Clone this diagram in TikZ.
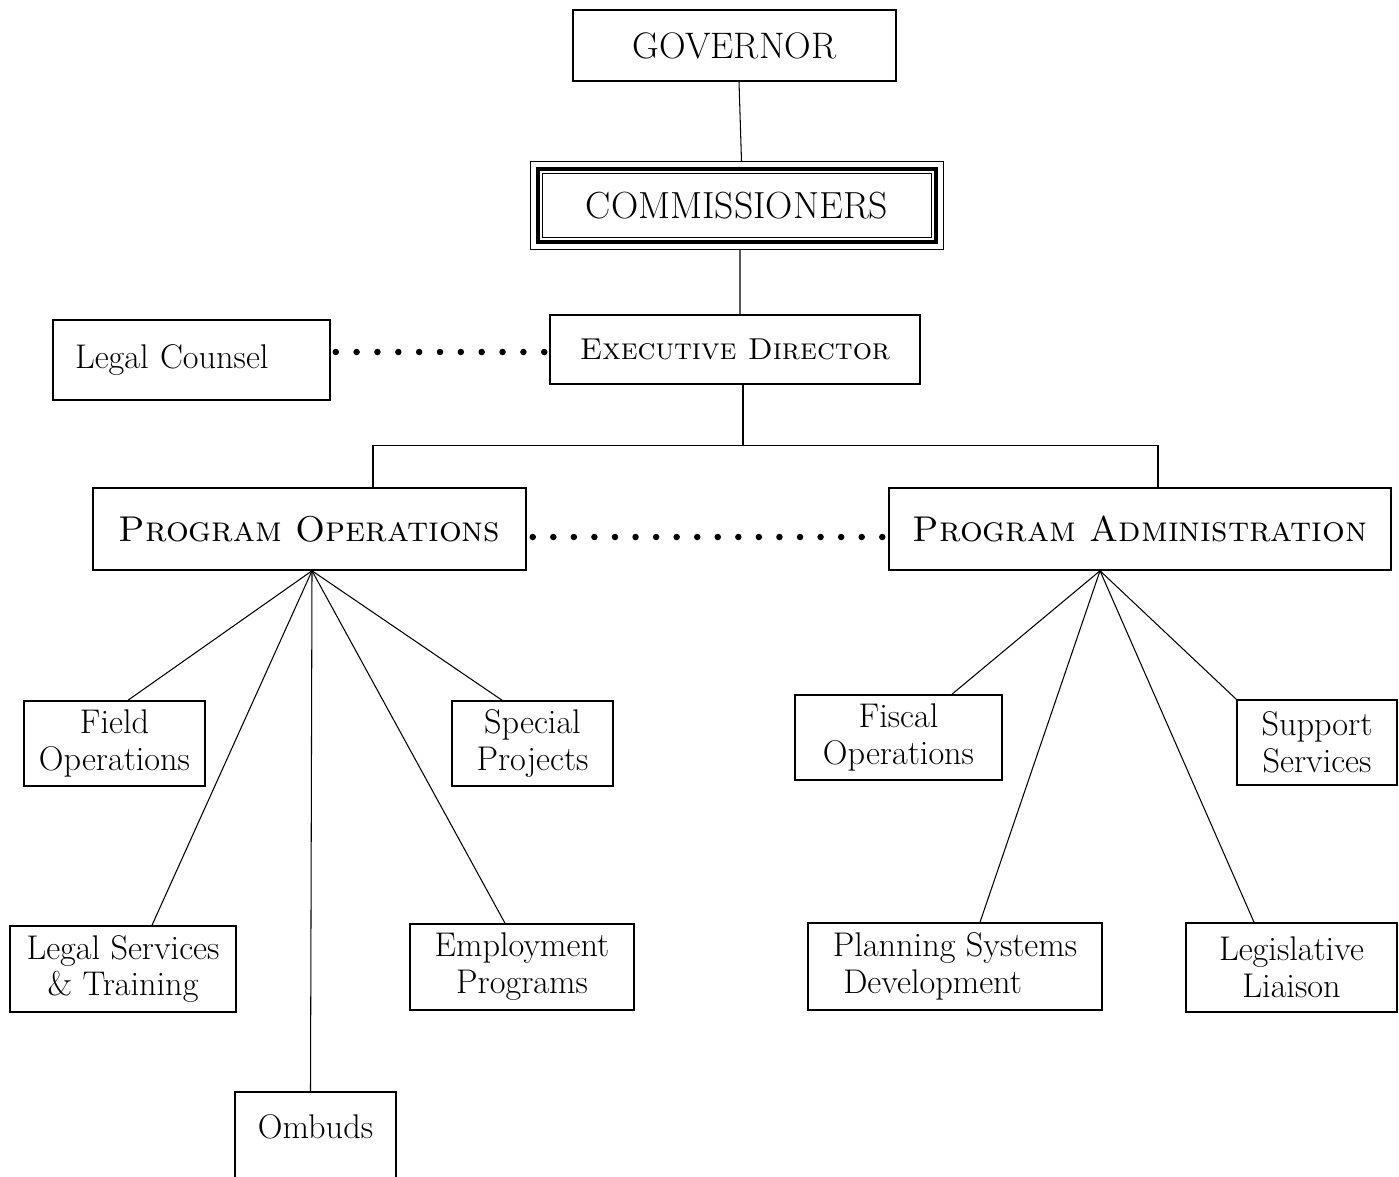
\documentclass[tikz,border=0pt]{standalone}
\usepackage{tikz}
\usetikzlibrary{positioning,calc}

\begin{document}
\begin{tikzpicture}[
        x=0.02cm, y=-0.02cm,
        box/.style={rectangle, draw=black, line width=0.9pt, align=center,
                    inner sep=2pt, font=\fontsize{19.5}{21}\selectfont},
        head/.style={box, font=\fontsize{20.4}{22}\selectfont},
        link/.style={draw=black, line width=0.6pt},
        dot/.style={fill=black},
    ]
    \useasboundingbox (0,0) rectangle (1399,1176);
    \clip (0,0) rectangle (1399,1176);

    % Top of the chart
    \node[head, minimum width=6.46cm, minimum height=1.42cm,
          font=\fontsize{21}{22}\selectfont] (gov) at (734.5,45.5) {GOVERNOR};
    \node[head, line width=1.8pt, minimum width=7.96cm, minimum height=1.46cm,
          font=\fontsize{21.5}{22}\selectfont] (comm) at (737,205.5) {COMMISSIONERS};
    \draw[line width=0.8pt] ([shift={(-0.12cm,0.12cm)}]comm.north west)
        rectangle ([shift={(0.12cm,-0.12cm)}]comm.south east);
    \draw[line width=0.6pt] ([shift={(0.12cm,-0.12cm)}]comm.north west)
        rectangle ([shift={(-0.12cm,0.12cm)}]comm.south east);
    \node[head, minimum width=7.4cm, minimum height=1.38cm,
          font=\fontsize{17.2}{21}\selectfont] (exec) at (735,349.5) {\textsc{Executive Director}};
    \node[box, minimum width=5.54cm, minimum height=1.6cm, align=left,
          text width=4.66cm] (lc) at (191.5,360) {Legal Counsel};

    % Program divisions
    \node[head, minimum width=8.66cm, minimum height=1.64cm] (po) at (309.5,529) {\textsc{Program Operations}};
    \node[head, minimum width=10.04cm, minimum height=1.64cm] (pa) at (1140,529) {\textsc{Program Administration}};

    % Units under Program Operations
    \node[box, minimum width=3.62cm, minimum height=1.7cm] (field) at (114.5,743.5) {Field\\Operations};
    \node[box, minimum width=3.22cm, minimum height=1.7cm] (spec) at (532.5,743.5) {Special\\Projects};
    \node[box, minimum width=4.52cm, minimum height=1.72cm] (lst) at (123,969) {Legal Services\\\& Training};
    \node[box, minimum width=4.48cm, minimum height=1.72cm] (emp) at (522,967) {Employment\\Programs};
    \node[box, anchor=north, minimum width=3.22cm, text depth=1.7cm, inner ysep=0.45cm] (omb) at (315.5,1091) {Ombuds};

    % Units under Program Administration
    \node[box, minimum width=4.14cm, minimum height=1.7cm] (fisc) at (898.5,737.5) {Fiscal\\Operations};
    \node[box, minimum width=3.2cm, minimum height=1.7cm] (supp) at (1317,742.5) {Support\\Services};
    \node[box, minimum width=5.88cm, minimum height=1.74cm, align=left] (plan) at (955,966.5) {Planning Systems\\\ Development};
    \node[box, minimum width=4.22cm, minimum height=1.78cm] (legis) at (1291.5,967.5) {Legislative\\Liaison};

    % Solid lines
    \draw[link] ([xshift=0.09cm]gov.south) -- ([xshift=0.09cm,yshift=0.12cm]comm.north);
    \draw[link] ([xshift=0.06cm,yshift=-0.12cm]comm.south) -- ([xshift=0.1cm]exec.north);
    \draw[link] ([xshift=0.16cm]exec.south) -- ++(0,61) coordinate (bus);
    \draw[link] ([xshift=1.27cm]po.north) |- (bus) -| ([xshift=0.36cm]pa.north);

    \coordinate (pohub) at ([xshift=0.05cm]po.south);
    \draw[link] (pohub) -- ([xshift=0.27cm]field.north);
    \draw[link] (pohub) -- ([xshift=-0.61cm]spec.north);
    \draw[link] (pohub) -- ([xshift=0.58cm]lst.north);
    \draw[link] (pohub) -- ([xshift=-0.34cm]emp.north);
    \draw[link] (pohub) -- ([xshift=-0.1cm]omb.north);

    \coordinate (pahub) at ([xshift=-0.8cm]pa.south);
    \draw[link] (pahub) -- ([xshift=1.07cm]fisc.north);
    \draw[link] (pahub) -- (supp.north west);
    \draw[link] (pahub) -- ([xshift=0.5cm]plan.north);
    \draw[link] (pahub) -- ([xshift=-0.75cm]legis.north);

    % Dotted staff lines
    \coordinate (lcA) at ([shift={(0.1cm,0.16cm)}]lc.east);
    \coordinate (lcB) at (lcA -| exec.west);
    \coordinate (lcB) at ([xshift=-0.1cm]lcB);
    \foreach \i in {0,...,10}
        \fill[dot] ($(lcA)!\i/10!(lcB)$) circle (1.85pt);

    \coordinate (poA) at ([shift={(0.12cm,-0.16cm)}]po.east);
    \coordinate (poB) at (poA -| pa.west);
    \coordinate (poB) at ([xshift=-0.12cm]poB);
    \foreach \i in {0,...,17}
        \fill[dot] ($(poA)!\i/17!(poB)$) circle (1.85pt);

\end{tikzpicture}
\end{document}
